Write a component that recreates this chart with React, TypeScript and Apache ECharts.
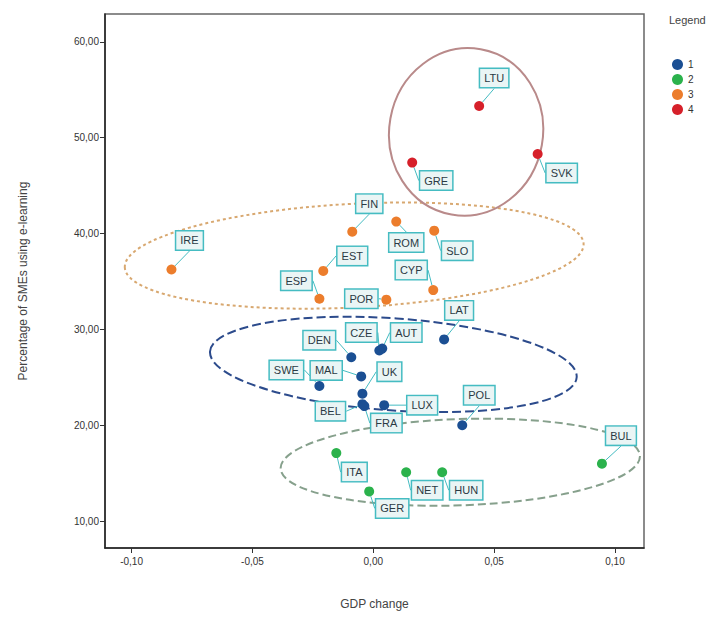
import React, { useEffect, useRef } from "react";
import * as echarts from "echarts";

// ---- data ----
const clusterNames = ["1", "2", "3", "4"];
const clusterColors = ["#1b4f93", "#2bb24c", "#ec7d2c", "#d6202a"];

const countries1 = ["LAT", "AUT", "CZE", "DEN", "MAL", "SWE", "UK", "BEL", "FRA", "LUX", "POL"];
const gdp1 = [0.0293, 0.0037, 0.0025, -0.0091, -0.005, -0.0223, -0.0045, -0.0045, -0.0037, 0.0045, 0.0368];
const sme1 = [28.96, 28.0, 27.8, 27.1, 25.1, 24.1, 23.3, 22.2, 22.0, 22.1, 20.0];

const countries2 = ["ITA", "GER", "NET", "HUN", "BUL"];
const gdp2 = [-0.0153, -0.0017, 0.0136, 0.0285, 0.0946];
const sme2 = [17.1, 13.1, 15.1, 15.1, 16.0];

const countries3 = ["IRE", "FIN", "ROM", "SLO", "EST", "ESP", "POR", "CYP"];
const gdp3 = [-0.0835, -0.0087, 0.0095, 0.0252, -0.0207, -0.0223, 0.0054, 0.0248];
const sme3 = [36.25, 40.2, 41.25, 40.3, 36.1, 33.2, 33.1, 34.1];

const countries4 = ["LTU", "GRE", "SVK"];
const gdp4 = [0.0438, 0.0161, 0.068];
const sme4 = [53.3, 47.4, 48.3];

const xTicks = [-0.1, -0.05, 0, 0.05, 0.1];
const yTicks = [10, 20, 30, 40, 50, 60];

// cluster ellipses (centre, half-axes in data units, tilt in degrees)
const ellipseCx = [0.0083, 0.036, -0.0079, 0.0384];
const ellipseCy = [26.35, 16.15, 37.7, 50.6];
const ellipseRx = [0.076, 0.0744, 0.095, 0.0318];
const ellipseRy = [4.8, 4.5, 5.4, 8.75];
const ellipseTilt = [-4, 2, 3, -10];

// label placement (layout only, px)
const labelOffsets1 = [[15, -29], [24, -16], [-18, -18], [-32, -17], [-35, -6], [-33, -16], [27, -22], [-32, 7], [22, 17], [38, 0], [17, -30]];
const labelOffsets2 = [[18, 19], [23, 17], [21, 18], [24, 18], [19, -28]];
const labelOffsets3 = [[18, -29], [17, -28], [10, 21], [23, 20], [29, -15], [-23, -18], [-25, -1], [-22, -20]];
const labelOffsets4 = [[15, -28], [24, 18], [24, 19]];

const ellipseStroke = ["#2c4b8c", "#86a08c", "#d8a870", "#b98a8a"];
const ellipseDash = [[9, 4], [8, 4], [3, 3], null];

export default function App() {
  const ref = useRef<HTMLDivElement>(null);
  useEffect(() => {
    if (!ref.current) return;
    const chart = echarts.init(ref.current, null, { renderer: "svg" });
    const groups = [
      [countries1, gdp1, sme1, labelOffsets1],
      [countries2, gdp2, sme2, labelOffsets2],
      [countries3, gdp3, sme3, labelOffsets3],
      [countries4, gdp4, sme4, labelOffsets4],
    ] as any[];

    const fmt = (v: number) => v.toFixed(2).replace(".", ",");
    const font = "Liberation Sans, Arial, sans-serif";

    const scatterSeries = groups.map((g, gi) => {
      const [names, xs, ys, offs] = g;
      return {
        name: clusterNames[gi],
        type: "scatter",
        symbolSize: 10,
        z: 5,
        itemStyle: { color: clusterColors[gi], opacity: 1 },
        data: names.map((n: string, i: number) => ({ name: n, value: [xs[i], ys[i]] })),
        label: {
          show: true,
          formatter: (p: any) => p.name,
          position: "inside",
          fontSize: 11,
          fontFamily: font,
          color: "#2a3a44",
          backgroundColor: "#eaf5f5",
          borderColor: "#45bcc2",
          borderWidth: 1.5,
          padding: [4, 4, 3, 4],
        },
        labelLine: { show: true, lineStyle: { color: "#45bcc2", width: 1 } },
        labelLayout: (p: any) => {
          const o = offs[p.dataIndex];
          return { dx: o[0], dy: o[1] };
        },
      };
    });

    const ellipseData = ellipseCx.map((cx, i) => [cx, ellipseCy[i], ellipseRx[i], ellipseRy[i], ellipseTilt[i], i]);

    chart.setOption({
      animation: false,
      backgroundColor: "#ffffff",
      title: {
        text: "Legend",
        left: 664,
        top: 9,
        textStyle: { fontSize: 11, fontWeight: "normal", color: "#444", fontFamily: font },
      },
      legend: {
        data: clusterNames,
        orient: "vertical",
        left: 667,
        top: 54,
        icon: "circle",
        itemWidth: 11,
        itemHeight: 11,
        itemGap: 4,
        textStyle: { fontSize: 10, color: "#333", fontFamily: font },
      },
      grid: {
        left: 105,
        right: 75,
        top: 14,
        bottom: 72,
        show: true,
        borderColor: "#666",
        borderWidth: 1.5,
        backgroundColor: "#ffffff",
      },
      xAxis: {
        type: "value",
        min: -0.111,
        max: 0.112,
        name: "GDP change",
        nameLocation: "middle",
        nameGap: 50,
        nameTextStyle: { fontSize: 12, color: "#444", fontFamily: font },
        axisLine: { show: true, onZero: false, lineStyle: { color: "#222", width: 1.5 } },
        axisTick: { show: true, customValues: xTicks, length: 5, lineStyle: { color: "#333" } },
        axisLabel: {
          customValues: xTicks,
          formatter: fmt,
          fontSize: 10,
          color: "#333",
          margin: 8,
          fontFamily: font,
        },
        splitLine: { show: false },
      },
      yAxis: {
        type: "value",
        min: 7.2,
        max: 62.9,
        name: "Percentage of SMEs using e-learning",
        nameLocation: "middle",
        nameRotate: 90,
        nameGap: 76,
        nameTextStyle: { fontSize: 12, color: "#444", fontFamily: font },
        axisLine: { show: true, onZero: false, lineStyle: { color: "#222", width: 1.5 } },
        axisTick: { show: true, customValues: yTicks, length: 5, lineStyle: { color: "#333" } },
        axisLabel: {
          customValues: yTicks,
          formatter: fmt,
          fontSize: 10,
          color: "#333",
          margin: 6,
          fontFamily: font,
        },
        splitLine: { show: false },
      },
      series: [
        {
          name: "ellipses",
          type: "custom",
          z: 2,
          silent: true,
          data: ellipseData,
          encode: { x: 0, y: 1 },
          renderItem: (params: any, api: any) => {
            const c = api.coord([api.value(0), api.value(1)]);
            const s = api.size([api.value(2), api.value(3)]);
            const idx = api.value(5);
            return {
              type: "ellipse",
              x: c[0],
              y: c[1],
              rotation: (api.value(4) * Math.PI) / 180,
              shape: { cx: 0, cy: 0, rx: s[0], ry: s[1] },
              style: {
                fill: "none",
                stroke: ellipseStroke[idx],
                lineWidth: 2,
                lineDash: ellipseDash[idx] || undefined,
              },
            };
          },
        },
        ...scatterSeries,
      ],
    });
    return () => chart.dispose();
  }, []);
  return <div ref={ref} style={{ width: 719, height: 620, position: "absolute", left: 0, top: 0 }} />;
}
